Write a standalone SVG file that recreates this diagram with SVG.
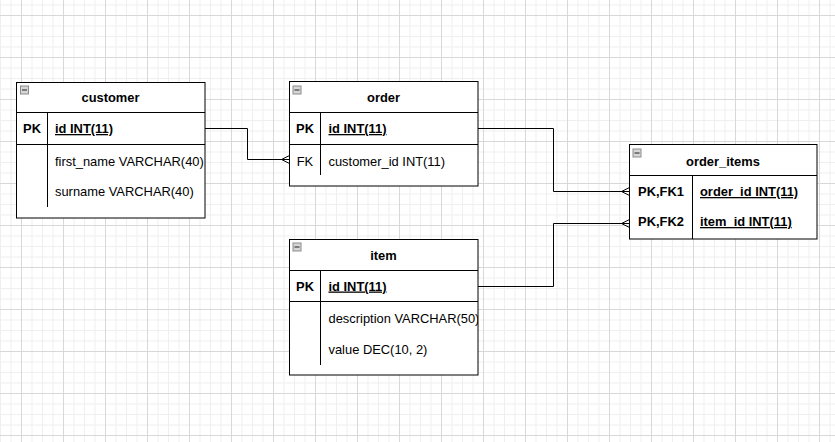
<svg xmlns="http://www.w3.org/2000/svg" width="835" height="442" viewBox="0 0 835 442">
  <style>
    .box { fill: #ffffff; stroke: #000000; stroke-width: 1; }
    .ln { fill: none; stroke: #000000; stroke-width: 1; }
    .t { font-family: "Liberation Sans", Arial, Helvetica, sans-serif; font-size: 12.9px; fill: #000000; }
    .b { font-weight: bold; }
    .u { text-decoration: underline; }
    .mid { text-anchor: middle; }
    .edge { fill: none; stroke: #000000; stroke-width: 1; }
  </style>
  <defs>
    <pattern id="grid" x="21" y="15" width="42" height="42" patternUnits="userSpaceOnUse">
      <path d="M11 0V42M21.5 0V42M32 0V42M0 11H42M0 21.5H42M0 32H42" stroke="#efefef" stroke-width="1" fill="none"/>
      <path d="M0.5 0V42M0 0.5H42" stroke="#d8d8d8" stroke-width="1" fill="none"/>
    </pattern>
    <g id="minus">
      <rect x="0.5" y="0.5" width="8" height="8" fill="#d6d6d6" stroke="#8c8c8c" stroke-width="1"/>
      <path d="M2 4.5H7" stroke="#222222" stroke-width="1"/>
    </g>
    <clipPath id="itemclip"><rect x="289" y="239" width="189" height="136"/></clipPath>
  </defs>
  <rect x="0" y="0" width="835" height="442" fill="#ffffff"/>
  <rect x="0" y="0" width="835" height="442" fill="url(#grid)"/>

  <g id="connectors">
    <path class="edge" d="M205 128.5H247.5V159.5H289.5"/>
    <path class="edge" d="M289.5 155.5L281.5 159.5L289.5 163.5"/>
    <path class="edge" d="M478 128.5H553.5V191.5H629.5"/>
    <path class="edge" d="M629.5 187.5L621.5 191.5L629.5 195.5"/>
    <path class="edge" d="M478 286.5H553.5V223.5H629.5"/>
    <path class="edge" d="M629.5 219.5L621.5 223.5L629.5 227.5"/>
  </g>

  <g id="customer">
    <rect class="box" x="16.5" y="82.5" width="188.5" height="135.5"/>
    <use href="#minus" x="20" y="85.5"/>
    <path class="ln" d="M16.5 112.5H205M16.5 144.5H205M47.5 112.5V207"/>
    <text class="t b mid" x="110.5" y="102">customer</text>
    <text class="t b mid" x="32" y="133">PK</text>
    <text class="t b u" x="55" y="133">id INT(11)</text>
    <text class="t" x="55" y="165.5">first_name VARCHAR(40)</text>
    <text class="t" x="55" y="196">surname VARCHAR(40)</text>
  </g>

  <g id="order">
    <rect class="box" x="289.5" y="81.5" width="188.5" height="104.5"/>
    <use href="#minus" x="292.5" y="85.5"/>
    <path class="ln" d="M289.5 112.5H478M289.5 144.5H478M320.5 112.5V175"/>
    <text class="t b mid" x="383.5" y="102">order</text>
    <text class="t b mid" x="305" y="133">PK</text>
    <text class="t b u" x="328.5" y="133">id INT(11)</text>
    <text class="t mid" x="305" y="165.5">FK</text>
    <text class="t" x="328.5" y="165.5">customer_id INT(11)</text>
  </g>

  <g id="item">
    <rect class="box" x="289.5" y="239.5" width="188.5" height="135.5"/>
    <use href="#minus" x="292.5" y="242.5"/>
    <path class="ln" d="M289.5 270.5H478M289.5 301.5H478M320.5 270.5V365"/>
    <text class="t b mid" x="383.5" y="259.5">item</text>
    <text class="t b mid" x="305" y="290.5">PK</text>
    <text class="t b u" x="328.5" y="290.5">id INT(11)</text>
    <g clip-path="url(#itemclip)">
      <text class="t" x="328.5" y="323">description VARCHAR(50)</text>
    </g>
    <text class="t" x="328.5" y="354">value DEC(10, 2)</text>
  </g>

  <g id="order_items">
    <rect class="box" x="629.5" y="144.5" width="187.5" height="94.5"/>
    <use href="#minus" x="632.5" y="148.5"/>
    <path class="ln" d="M629.5 175.5H817M692.5 175.5V239"/>
    <text class="t b mid" x="723" y="166">order_items</text>
    <text class="t b mid" x="661" y="196">PK,FK1</text>
    <text class="t b u" x="700" y="196">order_id INT(11)</text>
    <text class="t b mid" x="661" y="226">PK,FK2</text>
    <text class="t b u" x="700" y="226">item_id INT(11)</text>
  </g>
</svg>
